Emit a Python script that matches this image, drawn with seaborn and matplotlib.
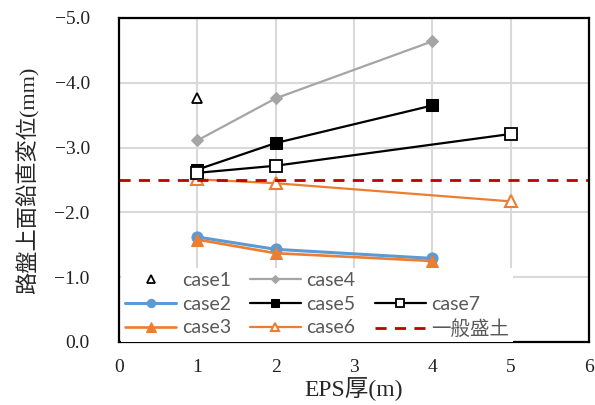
import matplotlib
matplotlib.use("Agg")
import matplotlib.pyplot as plt
from matplotlib.lines import Line2D
import seaborn as sns

# EPS thickness (m) and roadbed surface vertical displacement (mm)
eps_case1 = [1]
disp_case1 = [-3.77]
eps_case2 = [1, 2, 4]
disp_case2 = [-1.62, -1.43, -1.29]
eps_case3 = [1, 2, 4]
disp_case3 = [-1.58, -1.37, -1.25]
eps_case4 = [1, 2, 4]
disp_case4 = [-3.11, -3.76, -4.64]
eps_case5 = [1, 2, 4]
disp_case5 = [-2.66, -3.07, -3.65]
eps_case6 = [1, 2, 5]
disp_case6 = [-2.51, -2.45, -2.17]
eps_case7 = [1, 2, 5]
disp_case7 = [-2.61, -2.72, -3.21]
embankment_disp = -2.5

x_ticks = [0, 1, 2, 3, 4, 5, 6]
y_ticks = [0.0, -1.0, -2.0, -3.0, -4.0, -5.0]

BLUE = "#5b9bd5"
ORANGE = "#ed7d31"
GRAY = "#a5a5a5"
RED = "#c00000"

sns.set_style("white")
plt.rcParams["font.family"] = ["Liberation Serif", "Noto Sans CJK JP"]

fig = plt.figure(figsize=(5.95, 4.05), dpi=100)
ax = fig.add_axes([0.2, 0.1556, 0.79, 0.8])

lw = 1.6
sns.lineplot(x=eps_case1, y=disp_case1, ax=ax, label="case1", color="black",
             marker="^", markersize=7, markerfacecolor="white",
             markeredgecolor="black", markeredgewidth=1.3, linestyle="none")
sns.lineplot(x=eps_case2, y=disp_case2, ax=ax, label="case2", color=BLUE,
             lw=lw + 0.6, marker="o", markersize=8, markeredgecolor=BLUE)
sns.lineplot(x=eps_case3, y=disp_case3, ax=ax, label="case3", color=ORANGE,
             lw=lw + 0.3, marker="^", markersize=9, markeredgecolor=ORANGE)
sns.lineplot(x=eps_case4, y=disp_case4, ax=ax, label="case4", color=GRAY,
             lw=lw, marker="D", markersize=6, markeredgecolor=GRAY)
sns.lineplot(x=eps_case5, y=disp_case5, ax=ax, label="case5", color="black",
             lw=lw, marker="s", markersize=8, markeredgecolor="black")
sns.lineplot(x=eps_case6, y=disp_case6, ax=ax, label="case6", color=ORANGE,
             lw=lw, marker="^", markersize=8, markerfacecolor="white",
             markeredgecolor=ORANGE, markeredgewidth=1.5)
sns.lineplot(x=eps_case7, y=disp_case7, ax=ax, label="case7", color="black",
             lw=lw, marker="s", markersize=8, markerfacecolor="white",
             markeredgecolor="black", markeredgewidth=1.3)
ax.axhline(embankment_disp, color=RED, lw=2, ls=(0, (4, 3)), label="一般盛土")

ax.set_xlim(0, 6)
ax.set_ylim(0, -5)
ax.set_xticks(x_ticks)
ax.set_yticks(y_ticks)
ax.set_yticklabels([f"{v:.1f}".replace("-", "\u2212") for v in y_ticks])
ax.tick_params(axis="both", length=0, labelsize=14, colors="#222222")
ax.tick_params(axis="y", pad=21)
ax.tick_params(axis="x", pad=12)
ax.grid(True, color="#d9d9d9", lw=1.5)
ax.set_axisbelow(True)
for sp in ax.spines.values():
    sp.set_color("black")
    sp.set_linewidth(1.6)

ax.set_xlabel("EPS厚(m)", fontsize=17, labelpad=1)
ax.set_ylabel("路盤上面鉛直変位(mm)", fontsize=16, labelpad=11)

handles, labels = ax.get_legend_handles_labels()
hd = dict(zip(labels, handles))
blank = Line2D([], [], linestyle="none", marker=None)
order = ["case1", "case2", "case3", "case4", "case5", "case6", None, "case7", "一般盛土"]
leg_handles = [hd[k] if k else blank for k in order]
leg_labels = [k if k else "" for k in order]
leg = ax.legend(leg_handles, leg_labels, ncol=3, loc="lower left",
                bbox_to_anchor=(0.005, 0.0), borderaxespad=0.0, borderpad=0.2,
                handlelength=2.6, handletextpad=0.3, columnspacing=1.0,
                labelspacing=0.35, markerscale=0.75, frameon=True, fancybox=False,
                prop={"family": ["Lato", "Noto Sans CJK JP"], "size": 14})
leg.get_frame().set_facecolor("white")
leg.get_frame().set_edgecolor("none")
leg.get_frame().set_alpha(1.0)
for t in leg.get_texts():
    t.set_color("#595959")

fig.savefig("out.png", dpi=100)
